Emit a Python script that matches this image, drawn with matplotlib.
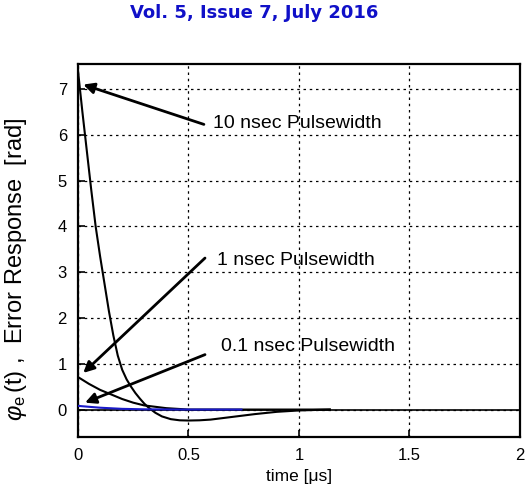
import matplotlib
matplotlib.use("Agg")
import matplotlib.pyplot as plt

plt.rcParams['font.family'] = ['Liberation Sans', 'DejaVu Sans']
plt.rcParams['mathtext.fontset'] = 'custom'
plt.rcParams['mathtext.rm'] = 'Liberation Sans'
plt.rcParams['mathtext.it'] = 'Liberation Sans:italic'

# 10 nsec pulsewidth response
t10 = [0, 0.02, 0.04, 0.06, 0.08, 0.10, 0.12, 0.14, 0.16, 0.18, 0.20, 0.22,
       0.24, 0.26, 0.28, 0.30, 0.32, 0.35, 0.38, 0.42, 0.46, 0.50, 0.55,
       0.60, 0.70, 0.80, 0.90, 1.00, 1.14]
y10 = [7.4, 6.5, 5.65, 4.8, 4.0, 3.35, 2.75, 2.15, 1.62, 1.18, 0.87, 0.66,
       0.5, 0.36, 0.24, 0.13, 0.04, -0.07, -0.15, -0.21, -0.235, -0.24,
       -0.235, -0.22, -0.16, -0.1, -0.05, -0.02, 0.0]

# 1 nsec pulsewidth response
t1 = [0, 0.05, 0.1, 0.15, 0.2, 0.25, 0.3, 0.4, 0.5, 0.8, 1.14]
y1 = [0.71, 0.56, 0.43, 0.33, 0.23, 0.15, 0.09, 0.03, 0.0, 0.0, 0.0]

# 0.1 nsec pulsewidth response
t01 = [0, 0.05, 0.1, 0.2, 0.3, 0.5, 0.74]
y01 = [0.08, 0.06, 0.04, 0.015, 0.005, 0.0, 0.0]

labels = ["10 nsec Pulsewidth", "1 nsec Pulsewidth", "0.1 nsec Pulsewidth"]
label_xy = [(0.611, 6.25), (0.629, 3.25), (0.647, 1.37)]
arrow_tail = [(0.57, 6.23), (0.575, 3.31), (0.575, 1.2)]
arrow_head = [(0.024, 7.1), (0.024, 0.8), (0.032, 0.15)]

xticks = [0, 0.5, 1, 1.5, 2]
xticklabels = ["0", "0.5", "1", "1.5", "2"]
yticks = [0, 1, 2, 3, 4, 5, 6, 7]

fig = plt.figure(figsize=(5.32, 4.84), dpi=100)
ax = fig.add_axes([0.1466, 0.0971, 0.8304, 0.7707])

ax.axhline(0, color='k', lw=1.2, zorder=2)
ax.plot(t10, y10, color='k', lw=1.5, zorder=3)
ax.plot(t1, y1, color='k', lw=1.5, zorder=3)
ax.plot(t01, y01, color='#1a1ac8', lw=1.5, zorder=4)

for lab, (lx, ly), tail, head in zip(labels, label_xy, arrow_tail, arrow_head):
    ax.text(lx, ly, lab, fontsize=14, va='center', ha='left')
    ax.annotate('', xy=head, xytext=tail,
                arrowprops=dict(arrowstyle='-|>', lw=2, color='k',
                                mutation_scale=16, shrinkA=0, shrinkB=0))

ax.set_xlim(0, 2)
ax.set_ylim(-0.6, 7.55)
ax.set_xticks(xticks)
ax.set_xticklabels(xticklabels)
ax.set_yticks(yticks)
ax.tick_params(direction='in', labelsize=12, pad=8, length=5, width=1.2)
ax.grid(True, color='k', ls=(0, (2, 3)), lw=0.9)
for s in ax.spines.values():
    s.set_linewidth(1.6)

ax.set_xlabel("time [μs]", fontsize=12.5, labelpad=4)
ax.set_ylabel(r"$\varphi_\mathrm{e}\,\mathrm{(t)}$ ,  Error Response  [rad]",
              fontsize=17)
ax.yaxis.set_label_coords(-0.11, 0.45)

fig.text(254 / 532, 1 - 13 / 484, "Vol. 5, Issue 7, July 2016",
         family='DejaVu Sans', weight='bold', fontsize=13,
         color='#1010c8', ha='center', va='center')

fig.savefig("out.png", dpi=100)
